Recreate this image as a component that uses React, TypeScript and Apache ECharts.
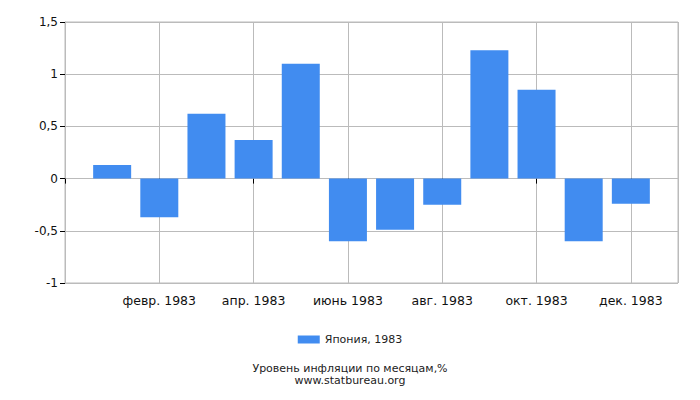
import { useEffect, useRef } from "react";
import * as echarts from "echarts";

const months = [
  "янв. 1983",
  "февр. 1983",
  "март 1983",
  "апр. 1983",
  "май 1983",
  "июнь 1983",
  "июль 1983",
  "авг. 1983",
  "сент. 1983",
  "окт. 1983",
  "нояб. 1983",
  "дек. 1983",
];
const values = [0.13, -0.37, 0.62, 0.37, 1.1, -0.6, -0.49, -0.25, 1.23, 0.85, -0.6, -0.24];
const seriesName = "Япония, 1983";
const titleLines = ["Уровень инфляции по месяцам,%", "www.statbureau.org"];

// empty slot on each side, so months sit on ticks
const categories = ["", ...months, ""];
const barData: (number | null)[] = [null, ...values, null];

const font = "DejaVu Sans, sans-serif";

const App = () => {
  const chartRef = useRef<HTMLDivElement>(null);

  useEffect(() => {
    const chart = echarts.init(chartRef.current, null, { renderer: "svg" });
    const last = categories.length - 1;
    chart.setOption({
      animation: false,
      grid: {
        left: 65,
        right: 22,
        top: 22,
        bottom: 117,
        show: true,
        borderColor: "#bbbbbb",
        borderWidth: 1,
      },
      legend: {
        data: [seriesName],
        bottom: 50,
        left: "center",
        itemWidth: 22,
        itemHeight: 8,
        itemGap: 5,
        icon: "rect",
        textStyle: { fontFamily: font, fontSize: 11, color: "#222" },
      },
      title: titleLines.map((t, i) => ({
        text: t,
        left: "center",
        top: 363 + i * 12,
        padding: 0,
        textStyle: {
          fontFamily: font,
          fontSize: 11,
          fontWeight: "normal",
          color: "#222",
          lineHeight: 11,
        },
      })),
      xAxis: {
        type: "category",
        data: categories,
        boundaryGap: false,
        axisLine: { show: true, lineStyle: { color: "#bbbbbb" } },
        axisTick: {
          show: true,
          length: 5,
          lineStyle: { color: "#000" },
          interval: (i: number) => i % 2 === 0 && i < last,
        },
        axisLabel: {
          interval: (i: number) => i % 2 === 0 && i > 0 && i < last,
          margin: 11,
          fontFamily: font,
          fontSize: 12.5,
          color: "#111",
        },
        splitLine: {
          show: true,
          interval: (i: number) => i % 2 === 0 || i === last,
          lineStyle: { color: "#bbbbbb" },
        },
      },
      yAxis: {
        type: "value",
        min: -1,
        max: 1.5,
        interval: 0.5,
        axisLine: { show: true, lineStyle: { color: "#bbbbbb" } },
        axisTick: { show: true, length: 5, lineStyle: { color: "#000" } },
        axisLabel: {
          margin: 7,
          fontFamily: font,
          fontSize: 12,
          color: "#111",
          formatter: (v: number) => String(v).replace(".", ","),
        },
        splitLine: { show: true, lineStyle: { color: "#bbbbbb" } },
      },
      series: [
        {
          name: seriesName,
          type: "bar",
          data: barData,
          barWidth: 38,
          itemStyle: { color: "#418cf0" },
        },
      ],
    });
    return () => {
      chart.dispose();
    };
  }, []);

  return <div ref={chartRef} style={{ width: "700px", height: "400px", margin: "-8px" }}></div>;
};

export default App;
